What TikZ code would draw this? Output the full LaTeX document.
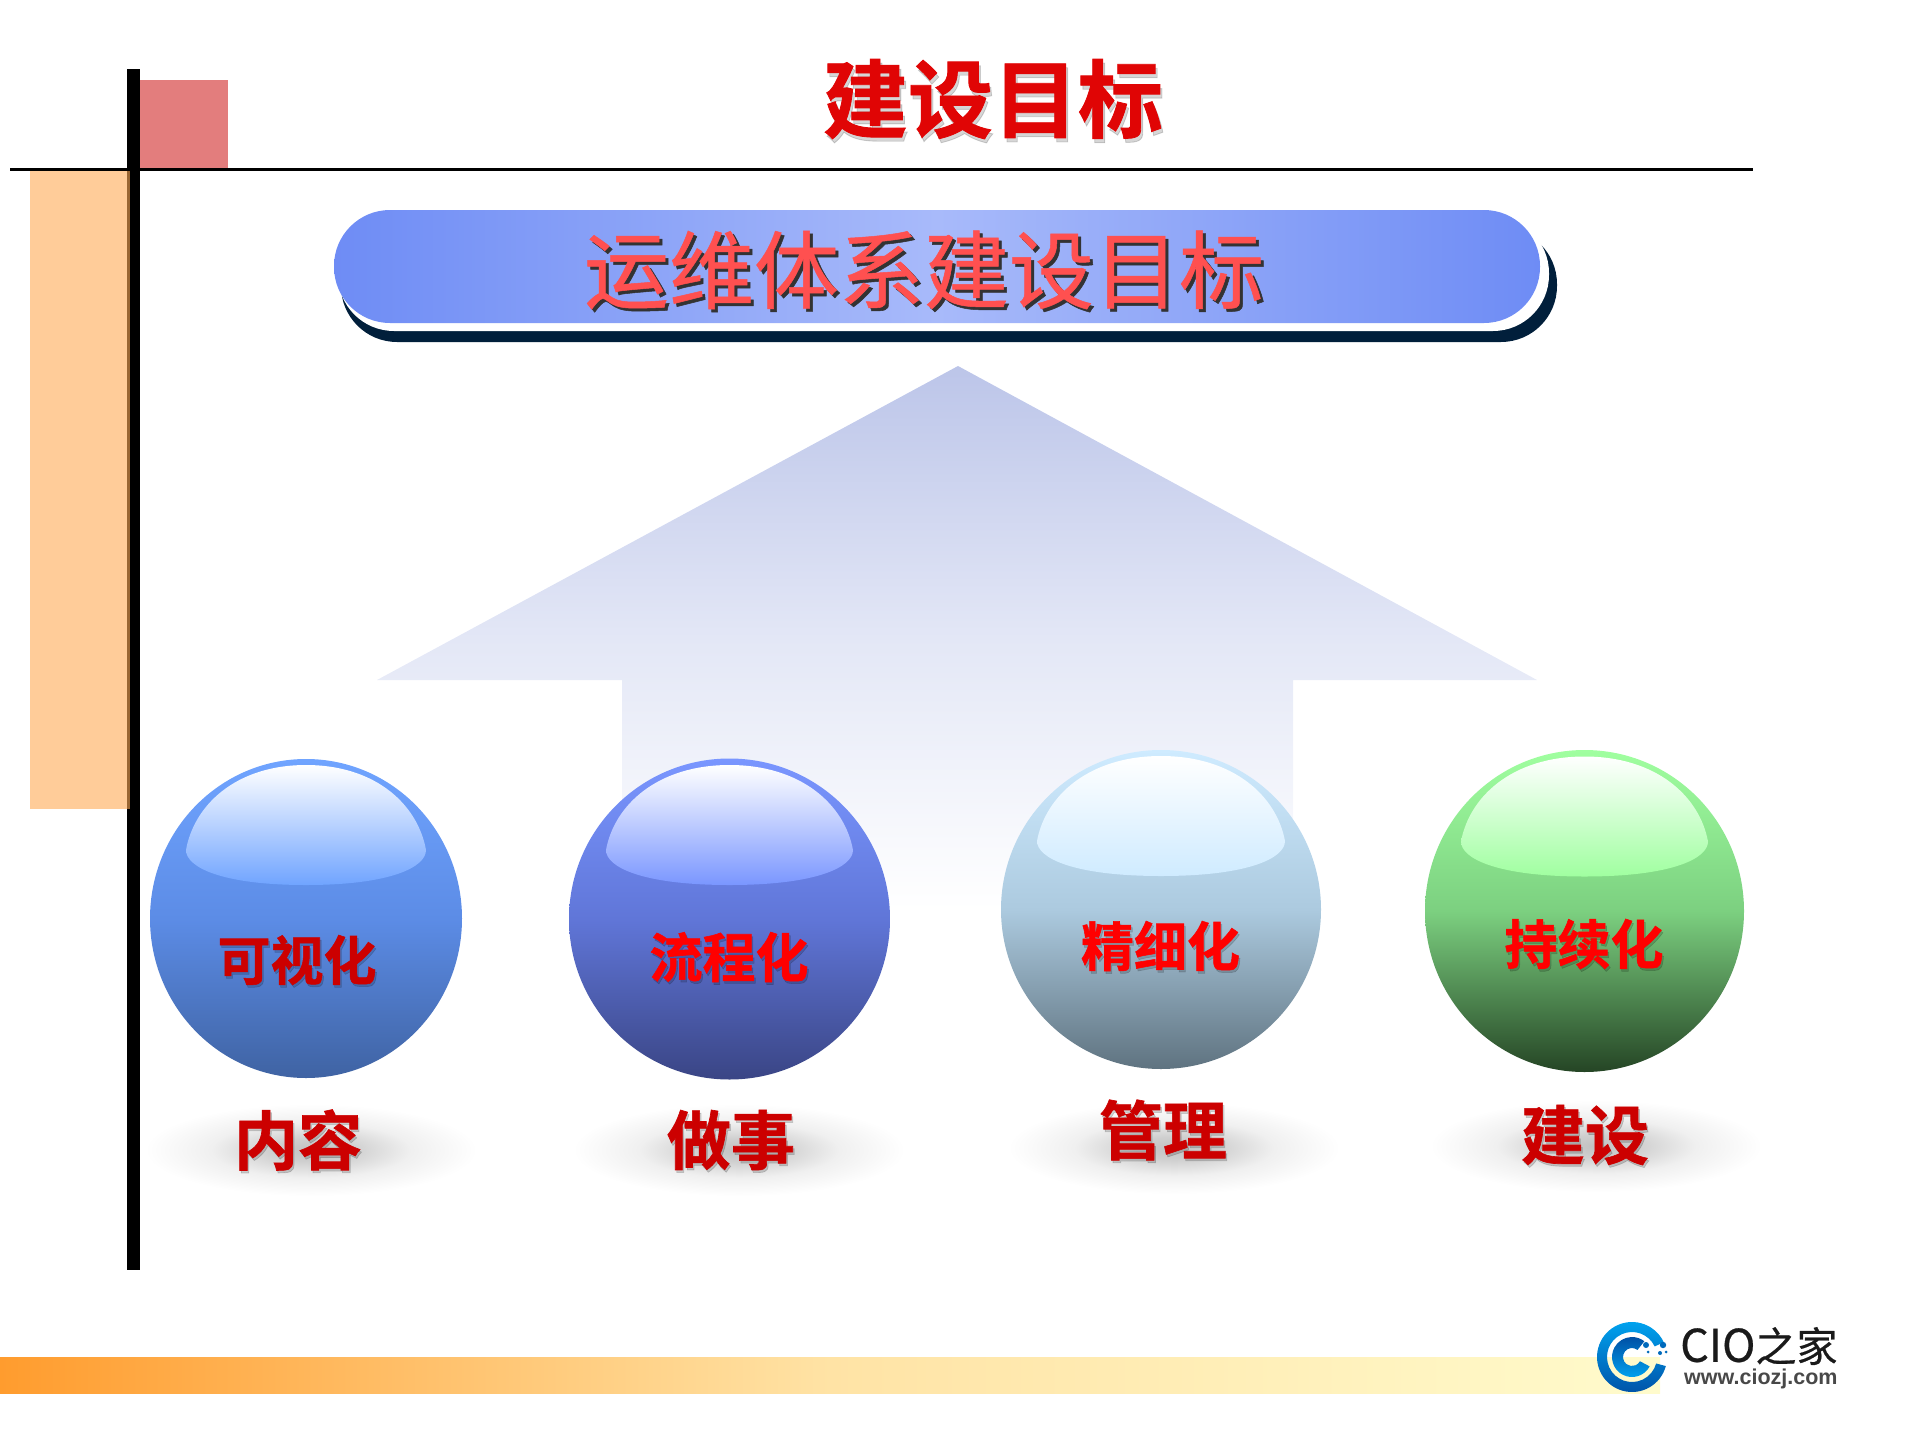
\documentclass[tikz,border=0pt]{standalone}
\usepackage{fontspec}
\usetikzlibrary{positioning,shapes.geometric}
\newfontfamily\cjk[FakeBold=0.5]{Noto Sans CJK SC}
\newfontfamily\cjkmid[FakeBold=0.6]{Noto Sans CJK SC}
\newfontfamily\cjkheavy[FakeBold=1]{Noto Sans CJK SC Bold}
\newfontfamily\webfont{Liberation Sans}
\definecolor{titlered}{HTML}{E00505}
\definecolor{darkred}{HTML}{CC0000}
\definecolor{purered}{HTML}{FF0000}
\definecolor{subred}{HTML}{FF5050}
\definecolor{pinkbox}{HTML}{E37D7D}
\definecolor{orangebox}{HTML}{FFAA55}
\definecolor{capend}{HTML}{6E8CF5}
\definecolor{capmid}{HTML}{A8BAFA}
\definecolor{capdark}{HTML}{011F3B}
\definecolor{arrowtop}{HTML}{BCC5E9}
\definecolor{arrowmid}{HTML}{E3E7F6}
\definecolor{stripa}{HTML}{FF9C2E}
\definecolor{stripm}{HTML}{FFE3A5}
\definecolor{stripb}{HTML}{FFFBCC}
\definecolor{logotop}{HTML}{00A6F2}
\definecolor{logobot}{HTML}{0050A5}
\definecolor{logotext}{HTML}{1A1A1A}
% ball colours
\definecolor{balla}{HTML}{70A4FF}\definecolor{ballam}{HTML}{5C8CE6}\definecolor{ballab}{HTML}{3F63A3}
\definecolor{ballb}{HTML}{7A96FF}\definecolor{ballbm}{HTML}{6076D8}\definecolor{ballbb}{HTML}{3A4585}
\definecolor{ballc}{HTML}{CFEBFF}\definecolor{ballcm}{HTML}{ACCADF}\definecolor{ballcb}{HTML}{5F7380}
\definecolor{balld}{HTML}{A0FFA0}\definecolor{balldm}{HTML}{7CD080}\definecolor{balldb}{HTML}{254525}
\pgfdeclareradialshading{halo}{\pgfpoint{0bp}{0bp}}{color(0bp)=(black!24); color(6bp)=(black!19); color(15bp)=(black!6); color(25bp)=(white); color(50bp)=(white)}
\tikzset{
  maintitle/.style={inner sep=0pt,font=\cjkheavy\fontsize{85}{90}\selectfont,text=titlered},
  subtitle/.style={inner sep=0pt,font=\cjkmid\fontsize{85}{90}\selectfont,text=subred},
  balltext/.style={inner sep=0pt,font=\cjkheavy\fontsize{53}{60}\selectfont},
  basetext/.style={inner sep=0pt,font=\cjkheavy\fontsize{64}{70}\selectfont,text=darkred},
  softshadow/.style={text=black,text opacity=0.16},
}
\begin{document}
\begin{tikzpicture}[x=1pt,y=-1pt]
  \useasboundingbox (0,0) rectangle (1920,1440);
  % frame
  \fill[pinkbox] (140,80) rectangle (228,168);
  \fill[black] (127,69) rectangle (140,1270);
  \fill[orangebox,opacity=0.6] (30,170) rectangle (130,809);
  \fill[black] (10,168) rectangle (1753,171);
  % title
  \node[maintitle,softshadow] (titles) at (995,103) {建设目标};
  \node[maintitle] (title) at (993,99) {建设目标};
  % capsule
  \fill[capdark,rounded corners=56pt] (341,228) rectangle (1557,342);
  \fill[white,rounded corners=56pt] (338,217) rectangle (1549,331);
  \path[left color=capend,right color=capend,middle color=capmid,rounded corners=56pt] (334,210) rectangle (1540,323);
  \node[subtitle,text=black!80] (subs) at (927,273) {运维体系建设目标};
  \node[subtitle] (sub) at (924,270) {运维体系建设目标};
  % big arrow
  \path[top color=arrowtop,bottom color=white,middle color=arrowmid] (958,366) -- (1537,680) -- (1293,680) -- (1293,910)
    -- (622,910) -- (622,680) -- (377,680) -- cycle;
  % shadows under the balls
  \foreach \cx/\cy in {311/1150,739/1150,1174/1148,1596/1146}
    \path[shading=halo] (\cx,\cy) ellipse [x radius=166,y radius=46];
  % balls
  \foreach \nm/\cx/\cy/\rx/\ry/\hx/\hy/\hw in {
      balla/306/918.5/156/159.5/306/825/120,
      ballb/729.5/919/160.5/160.5/729.5/825/123.5,
      ballc/1161/909.5/160/159.5/1161/816/124,
      balld/1584.5/911/159.5/161/1584.5/816.5/123.5}{
    \path[top color=\nm,bottom color=\nm b,middle color=\nm m] (\cx,\cy) ellipse [x radius=\rx,y radius=\ry];
    \begin{scope}[shift={(\hx,\hy)},x=\hw/120*1pt]
      \path[top color=white,bottom color=\nm] (0,60) .. controls (-85,60) and (-120,42) .. (-120,25)
        .. controls (-112,-20) and (-70,-60) .. (0,-60) .. controls (70,-60) and (112,-20) .. (120,25)
        .. controls (120,42) and (85,60) .. (0,60) -- cycle;
    \end{scope}
  }
  % ball labels
  \foreach \nm/\cx/\cy/\col/\txt in {
      visual/297/960/darkred/可视化,
      flow/729/957/purered/流程化,
      fine/1160.5/946/purered/精细化,
      lasting/1584/944/purered/持续化}{
    \node[balltext,softshadow] (\nm s) at (\cx+1.5,\cy+2.5) {\txt};
    \node[balltext,text=\col] (\nm) at (\cx,\cy) {\txt};
  }
  \foreach \nm/\cx/\cy/\txt in {
      content/298/1140/内容,
      doing/731/1140/做事,
      manage/1163/1130/管理,
      build/1585/1135/建设}{
    \node[basetext,softshadow] (\nm s) at (\cx+1.5,\cy+2.5) {\txt};
    \node[basetext] (\nm) at (\cx,\cy) {\txt};
  }
  % bottom strip
  \path[left color=stripa,right color=stripb,middle color=stripm] (0,1357) rectangle (1660,1393);
  % logo
  \begin{scope}[shift={(1632,1357)}]
    \path[top color=logotop,bottom color=logobot] (15:35) arc[start angle=15,end angle=335,radius=35]
      -- (335:25) arc[start angle=335,end angle=15,radius=25] -- cycle;
    \path[top color=logobot,bottom color=logotop] (28:20) arc[start angle=28,end angle=308,radius=20]
      -- (308:9) arc[start angle=308,end angle=28,radius=9] -- cycle;
    \foreach \dx/\dy/\dr in {14/-12/3,31/-12/3.2,28/-4/2,16/-5/1.5,34/-5/1.5}
      \fill[logobot!70!logotop] (\dx,\dy) circle [radius=\dr];
  \end{scope}
  \node[inner sep=0pt,anchor=west,text=logotext,font=\cjk] (logoname) at (1680,1346)
    {\fontsize{45}{48}\selectfont CIO\fontsize{41}{48}\selectfont 之家};
  \node[inner sep=0pt,anchor=west,text=logotext!80,font=\webfont\bfseries\fontsize{21.5}{24}\selectfont] (logourl) at (1684,1379) {www.ciozj.com};
\end{tikzpicture}
\end{document}
